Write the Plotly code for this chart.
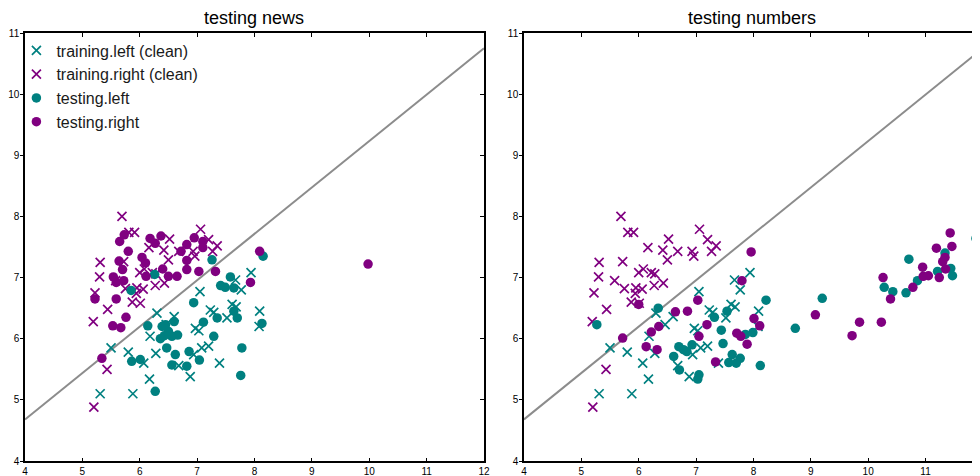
import plotly.graph_objects as go

TEAL = "#008080"
PURPLE = "#800080"

# training points (identical in both panels)
train_left_x = [5.31, 5.88, 6.17, 6.07, 5.50, 5.80, 6.28, 6.18, 6.30, 6.46, 6.60, 6.68, 6.88, 6.94, 7.08,
                7.20, 7.39, 6.97, 7.03, 7.05, 7.23, 7.29, 7.52, 7.61, 7.68, 7.67, 7.77, 7.94, 8.09, 8.08]
train_left_y = [5.10, 5.10, 5.34, 5.60, 5.85, 5.78, 5.76, 6.04, 6.42, 6.23, 6.36, 5.56, 5.38, 5.74, 5.85,
                5.88, 5.60, 6.17, 6.13, 6.77, 6.47, 6.43, 6.34, 6.56, 6.52, 6.96, 6.80, 7.08, 6.45, 6.20]

train_right_x = [5.69, 5.81, 5.91, 7.06, 6.52, 7.20, 7.35, 7.27, 6.16, 6.42, 6.68, 6.93, 6.96, 6.50, 5.31,
                 5.72, 5.30, 5.58, 6.00, 6.08, 6.22, 6.28, 6.27, 6.43, 5.75, 5.95, 6.06, 5.94, 5.22, 5.87,
                 6.01, 5.44, 5.19, 5.43, 5.20]
train_right_y = [8.00, 7.74, 7.74, 7.79, 7.63, 7.62, 7.52, 7.43, 7.49, 7.45, 7.43, 7.43, 7.35, 7.29, 7.25,
                 7.26, 7.01, 6.95, 7.08, 7.14, 7.08, 7.06, 6.87, 6.91, 6.82, 6.83, 6.81, 6.74, 6.75, 6.60,
                 6.58, 6.48, 6.28, 5.50, 4.88]

# testing news
news_left_x = [7.26, 8.15, 6.26, 5.85, 7.41, 7.49, 7.58, 7.64, 6.94, 6.14, 6.39, 6.45, 6.60, 6.50, 6.36,
               6.43, 6.56, 6.66, 7.11, 7.35, 7.29, 7.64, 7.70, 8.13, 6.47, 6.86, 6.62, 5.86, 6.01, 6.56,
               6.82, 7.04, 7.78, 7.76, 6.27]
news_left_y = [7.29, 7.35, 7.05, 6.79, 6.87, 6.84, 7.01, 6.83, 6.59, 6.21, 6.20, 6.23, 6.28, 6.12, 6.00,
               6.05, 6.04, 6.06, 6.27, 6.34, 6.04, 6.45, 6.34, 6.25, 5.85, 5.79, 5.74, 5.63, 5.66, 5.57,
               5.55, 5.65, 5.85, 5.40, 5.14]

news_right_x = [5.65, 5.73, 5.80, 6.18, 6.27, 6.37, 6.82, 6.95, 7.10, 7.10, 6.72, 6.04, 6.10, 5.64, 6.82,
                5.70, 6.40, 6.11, 6.50, 6.65, 6.82, 7.03, 7.32, 5.54, 5.59, 5.72, 5.22, 5.59, 5.76, 5.53,
                5.67, 5.34, 7.93, 8.09, 9.98]
news_right_y = [7.59, 7.70, 7.43, 7.64, 7.56, 7.68, 7.54, 7.65, 7.59, 7.49, 7.43, 7.33, 7.24, 7.27, 7.28,
                7.13, 7.14, 7.02, 7.02, 7.02, 7.13, 7.10, 7.10, 7.01, 6.92, 6.95, 6.65, 6.65, 6.35, 6.21,
                6.18, 5.68, 6.92, 7.43, 7.22]

# testing numbers
num_left_x = [5.27, 6.34, 7.32, 7.44, 7.47, 7.54, 6.70, 6.78, 6.84, 6.93, 6.61, 6.71, 7.05, 7.03, 7.63,
              7.70, 7.77, 7.57, 7.99, 8.12, 8.22, 7.86, 8.73, 9.20, 10.71, 10.28, 10.43, 10.66, 10.86,
              11.21, 11.34, 11.44, 11.47, 11.88]
num_left_y = [6.23, 6.50, 6.35, 6.14, 5.92, 6.45, 5.87, 5.82, 5.79, 5.90, 5.71, 5.49, 5.41, 5.34, 5.74,
              5.60, 5.68, 5.61, 6.10, 5.56, 6.63, 6.07, 6.17, 6.66, 7.30, 6.84, 6.77, 6.75, 6.95,
              7.10, 7.40, 7.15, 7.03, 7.64]

num_right_x = [7.96, 7.80, 7.03, 6.00, 6.64, 6.85, 6.35, 6.22, 5.72, 7.05, 7.19, 6.13, 6.32, 7.34, 7.71,
               7.78, 7.89, 8.01, 8.11, 9.08, 9.85, 9.72, 10.23, 10.26, 10.39, 10.78, 10.95, 10.96, 11.05,
               11.19, 11.24, 11.30, 11.34, 11.35, 11.43, 11.46]
num_right_y = [7.42, 6.95, 6.63, 6.56, 6.44, 6.45, 6.20, 6.11, 6.01, 6.04, 6.23, 5.87, 5.82, 5.62, 6.09,
               6.04, 5.91, 6.33, 6.21, 6.39, 6.27, 6.05, 6.27, 7.00, 6.65, 6.84, 7.17, 7.02, 7.03,
               7.48, 7.00, 7.26, 7.33, 7.14, 7.73, 7.51]

# separator line (same in both panels)
line_x = [4, 12]
line_y = [4.68, 10.75]

titles = ["testing news", "testing numbers"]
tick_vals = [4, 5, 6, 7, 8, 9, 10, 11, 12]
ytick_vals = [4, 5, 6, 7, 8, 9, 10, 11]

FONT = "Arial, Liberation Sans, sans-serif"

fig = go.Figure()

panels = [
    ("x", "y", news_left_x, news_left_y, news_right_x, news_right_y, True),
    ("x2", "y2", num_left_x, num_left_y, num_right_x, num_right_y, False),
]

for xa, ya, tlx, tly, trx, try_, show in panels:
    fig.add_trace(go.Scatter(x=line_x, y=line_y, mode="lines", xaxis=xa, yaxis=ya,
                             line=dict(color="#8c8c8c", width=2), showlegend=False, hoverinfo="skip"))
    fig.add_trace(go.Scatter(x=train_left_x, y=train_left_y, mode="markers", xaxis=xa, yaxis=ya,
                             name="training.left (clean)", showlegend=show,
                             marker=dict(symbol="x-thin", size=9, color=TEAL,
                                         line=dict(color=TEAL, width=1.7))))
    fig.add_trace(go.Scatter(x=train_right_x, y=train_right_y, mode="markers", xaxis=xa, yaxis=ya,
                             name="training.right (clean)", showlegend=show,
                             marker=dict(symbol="x-thin", size=9, color=PURPLE,
                                         line=dict(color=PURPLE, width=1.7))))
    fig.add_trace(go.Scatter(x=tlx, y=tly, mode="markers", xaxis=xa, yaxis=ya,
                             name="testing.left", showlegend=show,
                             marker=dict(symbol="circle", size=9.5, color=TEAL, line=dict(width=0))))
    fig.add_trace(go.Scatter(x=trx, y=try_, mode="markers", xaxis=xa, yaxis=ya,
                             name="testing.right", showlegend=show,
                             marker=dict(symbol="circle", size=9.5, color=PURPLE, line=dict(width=0))))

# dummy traces for overlay (top/right inward tick) axes
for xa, ya in [("x3", "y3"), ("x4", "y4")]:
    fig.add_trace(go.Scatter(x=[None], y=[None], xaxis=xa, yaxis=ya, mode="markers",
                             showlegend=False, hoverinfo="skip"))

dom1 = [0.0, 0.4806]
dom2 = [0.5225, 1.0]

def xax(domain, anchor, xmax, mirror):
    return dict(domain=domain, anchor=anchor, range=[4, xmax], tickvals=tick_vals,
                ticks="inside", ticklen=3, tickwidth=1, tickcolor="black",
                showline=True, linecolor="black", linewidth=1.5, mirror=mirror,
                showgrid=False, zeroline=False, tickfont=dict(size=10, color="black", family=FONT))

def yax(anchor, mirror):
    return dict(domain=[0, 1], anchor=anchor, range=[4, 11], tickvals=ytick_vals,
                ticks="outside", ticklen=3, tickwidth=1, tickcolor="black", ticklabelstandoff=-1,
                showline=True, linecolor="black", linewidth=1.5, mirror=mirror,
                showgrid=False, zeroline=False, tickfont=dict(size=10, color="black", family=FONT))

def xover(over, anchor):
    return dict(overlaying=over, matches=over, side="top", anchor=anchor, tickvals=tick_vals,
                ticks="inside", ticklen=4, tickwidth=1, tickcolor="black", showticklabels=False,
                showline=False, showgrid=False, zeroline=False)

def yover(over, anchor):
    return dict(overlaying=over, matches=over, side="right", anchor=anchor, tickvals=ytick_vals,
                ticks="inside", ticklen=4, tickwidth=1, tickcolor="black", showticklabels=False,
                showline=False, showgrid=False, zeroline=False)

fig.update_layout(
    width=972, height=468,
    margin=dict(l=17, r=0, t=25, b=15, autoexpand=False),
    paper_bgcolor="white", plot_bgcolor="white",
    font=dict(family=FONT, color="black"),
    xaxis=xax(dom1, "y", 12, True), yaxis=yax("x", True),
    xaxis2=xax(dom2, "y2", 11.95, True), yaxis2=yax("x2", False),
    xaxis3=xover("x", "y3"), yaxis3=yover("y", "x3"),
    xaxis4=xover("x2", "y4"), yaxis4=yover("y2", "x4"),
    legend=dict(x=-0.009, y=0.999, xanchor="left", yanchor="top", bgcolor="rgba(0,0,0,0)",
                font=dict(size=16, family=FONT, color="#1a1a1a"), tracegroupgap=0, itemwidth=30),
    showlegend=True,
)

for title, dom in zip(titles, [dom1, dom2]):
    fig.add_annotation(text=title, x=(dom[0] + dom[1]) / 2, y=1, xref="paper", yref="paper",
                       xanchor="center", yanchor="bottom", yshift=3, showarrow=False,
                       font=dict(size=18, family=FONT, color="black"))

fig.write_html("out.html")
